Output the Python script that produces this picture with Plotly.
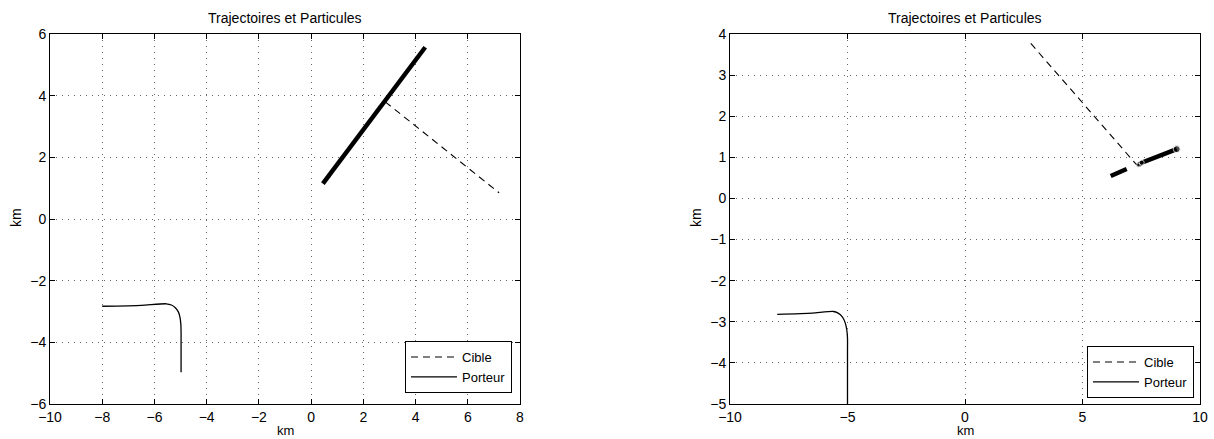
import plotly.graph_objects as go

# ---- Left panel data (km) ----
L_porteur_x = [-8.0, -6.5, -5.55, -5.35, -5.2, -5.08, -5.02, -4.99, -4.98, -4.98]
L_porteur_y = [-2.83, -2.80, -2.75, -2.79, -2.88, -3.02, -3.2, -3.4, -3.7, -4.97]
L_cible_x = [2.84, 7.2]
L_cible_y = [3.80, 0.85]
L_part_x = [0.45, 2.8, 4.37]
L_part_y = [1.15, 3.78, 5.57]

# ---- Right panel data (km) ----
R_porteur_x = [-7.99, -6.5, -5.6, -5.4, -5.22, -5.1, -5.03, -5.0, -5.0, -5.0]
R_porteur_y = [-2.82, -2.79, -2.75, -2.79, -2.88, -3.02, -3.2, -3.4, -3.7, -5.0]
R_cible_x = [2.80, 7.30]
R_cible_y = [3.77, 0.82]
R_part1_x = [6.20, 6.88]
R_part1_y = [0.545, 0.715]
R_part2_x = [7.37, 7.52, 9.01]
R_part2_y = [0.81, 0.87, 1.20]

# tick values
L_xticks = [-10, -8, -6, -4, -2, 0, 2, 4, 6, 8]
L_yticks = [-6, -4, -2, 0, 2, 4, 6]
R_xticks = [-10, -5, 0, 5, 10]
R_yticks = [-5, -4, -3, -2, -1, 0, 1, 2, 3, 4]

W, H = 1214, 439
FONT = "Liberation Sans, Arial, Helvetica, sans-serif"
DASH = "7px,5px"

fig = go.Figure()

def px_x(p):
    return p / W

def px_y(p):
    return 1 - p / H

# left panel traces
fig.add_trace(go.Scatter(x=L_part_x, y=L_part_y, mode="lines",
                         line=dict(color="black", width=4.5), showlegend=False,
                         xaxis="x", yaxis="y"))
fig.add_trace(go.Scatter(x=L_cible_x, y=L_cible_y, mode="lines", name="Cible",
                         line=dict(color="black", width=1.1, dash=DASH),
                         xaxis="x", yaxis="y", legend="legend"))
fig.add_trace(go.Scatter(x=L_porteur_x, y=L_porteur_y, mode="lines", name="Porteur",
                         line=dict(color="black", width=1.3, shape="spline", smoothing=0.6),
                         xaxis="x", yaxis="y", legend="legend"))

# right panel traces
fig.add_trace(go.Scatter(x=R_part1_x, y=R_part1_y, mode="lines",
                         line=dict(color="black", width=4.5), showlegend=False,
                         xaxis="x2", yaxis="y2"))
fig.add_trace(go.Scatter(x=R_part2_x, y=R_part2_y, mode="lines+markers",
                         line=dict(color="black", width=4.5),
                         marker=dict(color="black", size=[4, 5, 7]),
                         showlegend=False, xaxis="x2", yaxis="y2"))
fig.add_trace(go.Scatter(x=R_cible_x, y=R_cible_y, mode="lines", name="Cible",
                         line=dict(color="black", width=1.1, dash=DASH),
                         xaxis="x2", yaxis="y2", legend="legend2"))
fig.add_trace(go.Scatter(x=R_porteur_x, y=R_porteur_y, mode="lines", name="Porteur",
                         line=dict(color="black", width=1.3, shape="spline", smoothing=0.6),
                         xaxis="x2", yaxis="y2", legend="legend2"))

common_axis = dict(
    showline=True, linecolor="black", linewidth=1, mirror="ticks",
    ticks="inside", ticklen=5, tickcolor="black", tickwidth=1,
    showgrid=True, gridcolor="#666666", gridwidth=1, griddash="1px,5px",
    zeroline=False, tickfont=dict(family=FONT, size=14, color="black"),
    fixedrange=True, automargin=False,
)

ydom = [px_y(404), px_y(34)]
legend_style = dict(xanchor="right", yanchor="bottom",
                    bordercolor="black", borderwidth=1, bgcolor="white",
                    font=dict(family=FONT, size=13, color="black"),
                    tracegroupgap=0, itemwidth=46)
fig.update_layout(
    width=W, height=H,
    margin=dict(l=0, r=0, t=0, b=0),
    paper_bgcolor="white", plot_bgcolor="white",
    xaxis=dict(domain=[px_x(50), px_x(520)], range=[-10, 8], tickvals=L_xticks,
               anchor="y", **common_axis),
    yaxis=dict(domain=ydom, range=[-6, 6], tickvals=L_yticks, anchor="x",
               **common_axis),
    xaxis2=dict(domain=[px_x(730), px_x(1200)], range=[-10, 10], tickvals=R_xticks,
                anchor="y2", **common_axis),
    yaxis2=dict(domain=ydom, range=[-5, 4], tickvals=R_yticks, anchor="x2",
                **common_axis),
    legend=dict(x=px_x(512), y=px_y(393), **legend_style),
    legend2=dict(x=px_x(1194), y=px_y(398), **legend_style),
    font=dict(family=FONT, size=14, color="black"),
)

# titles and axis labels
labels = [
    (285, 18, "Trajectoires et Particules", 0, 14),
    (965, 18, "Trajectoires et Particules", 0, 14),
    (285, 430, "km", 0, 13),
    (965, 430, "km", 0, 13),
    (16, 218, "km", -90, 14),
    (696, 218, "km", -90, 14),
]
for x, y, t, ang, sz in labels:
    fig.add_annotation(x=px_x(x), y=px_y(y), xref="paper", yref="paper", text=t,
                       showarrow=False, textangle=ang, xanchor="center", yanchor="middle",
                       font=dict(family=FONT, size=sz, color="black"))

fig.write_html("out.html")
